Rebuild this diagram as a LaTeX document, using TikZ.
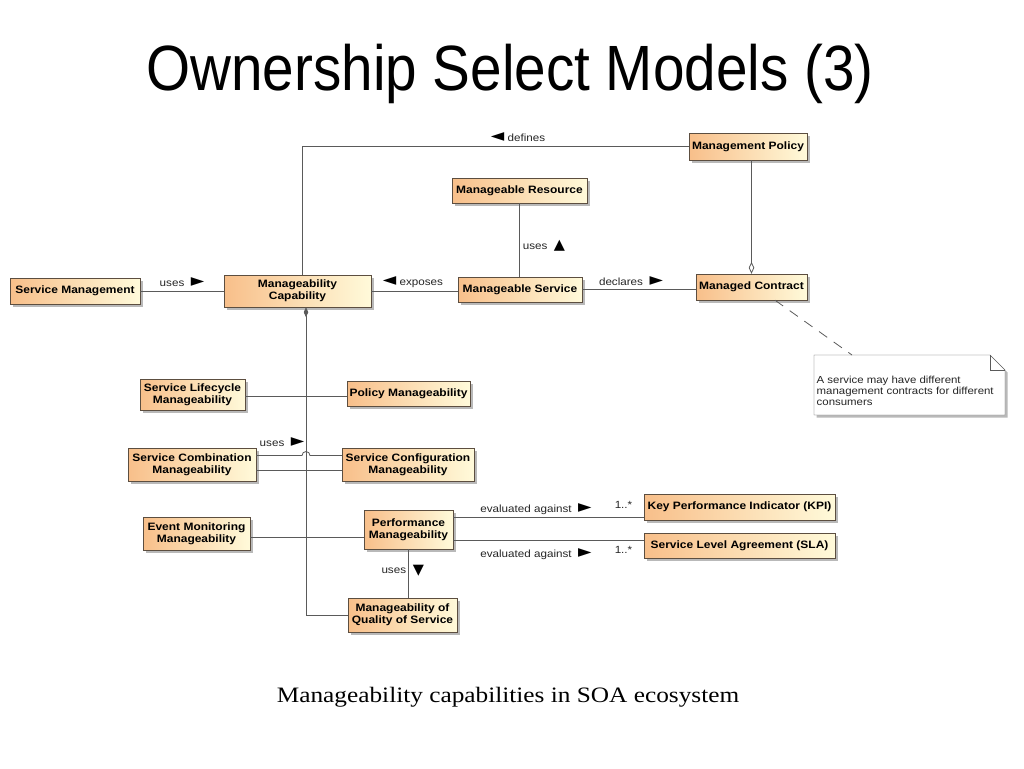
\documentclass[tikz,border=0pt]{standalone}
\usepackage{fontspec}
\usepackage{tikz}
\setmainfont{Liberation Sans}
\newfontfamily\umlfont{Liberation Sans}[FakeStretch=1.12]
\newfontfamily\symfont{DejaVu Sans}
\newfontfamily\titlefont{Liberation Sans}[FakeStretch=0.885]
\newfontfamily\legfont{Liberation Serif}[FakeStretch=1.15]
\definecolor{orangeL}{HTML}{F8BF8A}
\definecolor{creme}{HTML}{FFFADA}
\definecolor{bord}{HTML}{5C4E40}
\definecolor{trait}{HTML}{5A5A5A}
\usetikzlibrary{shadows,arrows.meta,calc}
\tikzset{classe/.style={
    draw=bord,
    left color=orangeL,
    right color=creme,
    drop shadow={shadow xshift=2.5pt,shadow yshift=-2.5pt,fill=black!50,opacity=0.55},
    align=center,
    inner sep=1pt,
    font=\umlfont\bfseries\fontsize{10.7}{12.3}\selectfont},
  lien/.style={
    draw=trait,
    line width=0.8pt},
  etiq/.style={
    inner sep=0pt,
    text=black!85,
    font=\umlfont\fontsize{10.4}{12}\selectfont}}
\newcommand{\tdroite}{{\symfont\fontsize{17.5}{12}\selectfont\color{black}►}}
\newcommand{\tgauche}{{\symfont\fontsize{17.5}{12}\selectfont\color{black}◄}}
\newcommand{\thaut}{{\symfont\fontsize{14.5}{12}\selectfont\color{black}▲}}
\newcommand{\tbas}{{\symfont\fontsize{14.5}{12}\selectfont\color{black}▼}}

\begin{document}
\begin{tikzpicture}[x=1pt,y=-1pt]

\fill[white] (0,0) rectangle (1024,768);
\useasboundingbox (0,0) rectangle (1024,768);

\node[font=\titlefont\fontsize{64}{70}\selectfont, anchor=base] (titre) at (510,90) {Ownership Select Models (3)};

% classes du haut
\node[classe,
  minimum width=118pt,
  minimum height=27pt] (pol) at (748,146.5) {Management Policy};

\node[classe,
  minimum width=135pt,
  minimum height=25pt] (res) at (519.5,190.5) {Manageable Resource};

\node[classe,
  minimum width=130pt,
  minimum height=26pt] (sm) at (75,291) {Service Management};

\node[classe,
  minimum width=147pt,
  minimum height=32pt] (cap) at (297.5,291) {Manageability\\Capability};

\node[classe,
  minimum width=124pt,
  minimum height=25pt] (ms) at (520,289.5) {Manageable Service};

\node[classe,
  minimum width=111pt,
  minimum height=26pt] (ctr) at (751.5,287) {Managed Contract};

% capacites
\node[classe,
  minimum width=105pt,
  minimum height=31pt] (slc) at (192.5,394.5) {Service Lifecycle\\Manageability};

\node[classe,
  minimum width=123pt,
  minimum height=25pt] (pm) at (408.5,393.5) {Policy Manageability};

\node[classe,
  minimum width=128pt,
  minimum height=33pt] (scm) at (192,464.5) {Service Combination\\Manageability};

\node[classe,
  minimum width=132pt,
  minimum height=33pt] (scf) at (408,464.5) {Service Configuration\\Manageability};

\node[classe,
  minimum width=107pt,
  minimum height=33pt] (em) at (196.5,533.5) {Event Monitoring\\Manageability};

\node[classe,
  minimum width=89pt,
  minimum height=39pt] (perf) at (408.5,529.5) {Performance\\Manageability};

\node[classe,
  minimum width=191pt,
  minimum height=26pt] (kpi) at (739.5,507) {Key Performance Indicator (KPI)};

\node[classe,
  minimum width=191pt,
  minimum height=25pt] (sla) at (739.5,545.5) {Service Level Agreement (SLA)};

\node[classe,
  minimum width=109pt,
  minimum height=34pt] (qos) at (402.5,615) {Manageability of\\Quality of Service};

% note
\fill[black!50, opacity=0.55] (816.5,357.5) -- (992.5,357.5) -- (1007.5,372.5) -- (1007.5,417.5) -- (816.5,417.5) -- cycle;
\draw[draw=trait, fill=white] (814,355) -- (990,355) -- (1005,370) -- (1005,415) -- (814,415) -- cycle;
\draw[draw=trait] (990,355) -- (990,370) -- (1005,370);
\coordinate (noteH) at (852,355);
\node[etiq,
  anchor=north west,
  align=left,
  font=\umlfont\fontsize{10.2}{11}\selectfont] (note) at (816.5,376) {A service may have different\\management contracts for different\\consumers};

% liens
\coordinate (capD) at ([xshift=5pt]cap.north);
\coordinate (capB) at ([xshift=8.5pt]cap.south);

\draw[lien] (pol.west) -| (capD);
\node[etiq] (lDef) at (518,137.5) {\tgauche\ defines};

\draw[lien] (res.south) -- (res.south |- ms.north);
\node[etiq] (lRes) at (544,246) {uses\ \ \thaut};

\draw[lien] (sm.east) -- (cap.west);
\node[etiq] (lSm) at (182,282) {uses\ \ \tdroite};

\draw[lien] (cap.east) -- (cap.east -| ms.west);
\node[etiq] (lExp) at (413,282) {\tgauche\ exposes};

\draw[lien] (ms.east) -- (ms.east -| ctr.west);
\node[etiq] (lDecl) at (631,281) {declares\ \ \tdroite};

\draw[lien, -{Diamond[open,length=12pt,width=5.5pt]}] (ctr.north |- pol.south) -- (ctr.north);

\draw[lien, dash pattern=on 10pt off 8pt] ([xshift=23.5pt]ctr.south) -- (noteH);

% composition
\draw[lien, {Diamond[length=10pt,width=4.5pt]}-] (capB) |- (qos.west);

\draw[lien] (slc.east |- 0,396.5) -- (pm.west |- 0,396.5);

\draw[lien] ([yshift=9pt]scm.east) -- ($(capB |- scm.east)+(-4,-9)$)
  arc[start angle=180, end angle=360, radius=4] -- ([yshift=9pt]scf.west);
\draw[lien] ([yshift=-6pt]scm.east) -- ([yshift=-6pt]scf.west);
\node[etiq] (lScm) at (282,442) {uses\ \ \tdroite};

\draw[lien] ([yshift=-3.5pt]em.east) -- ([yshift=-3.5pt]em.east -| perf.west);

\coordinate (kpiG) at ([yshift=-10.5pt]kpi.west);
\coordinate (slaG) at ([yshift=5.5pt]sla.west);
\draw[lien] (perf.east |- kpiG) -- (kpiG);
\draw[lien] (perf.east |- slaG) -- (slaG);
\node[etiq] (lKpi) at (536,509.5) {evaluated against\ \ \tdroite};
\node[etiq] (mKpi) at (623.5,504.5) {1..*};
\node[etiq] (lSla) at (536,554) {evaluated against\ \ \tdroite};
\node[etiq] (mSla) at (623.5,549.5) {1..*};

\draw[lien] (perf.south) -- (perf.south |- qos.north)
  node[etiq, pos=0.45, left=2pt] (lQos) {uses}
  node[etiq, pos=0.45, right=4pt] (tQos) {\tbas};

\node[font=\legfont\fontsize{22}{26}\selectfont, anchor=base] (legende) at (508,702) {Manageability capabilities in SOA ecosystem};

\end{tikzpicture}
\end{document}
